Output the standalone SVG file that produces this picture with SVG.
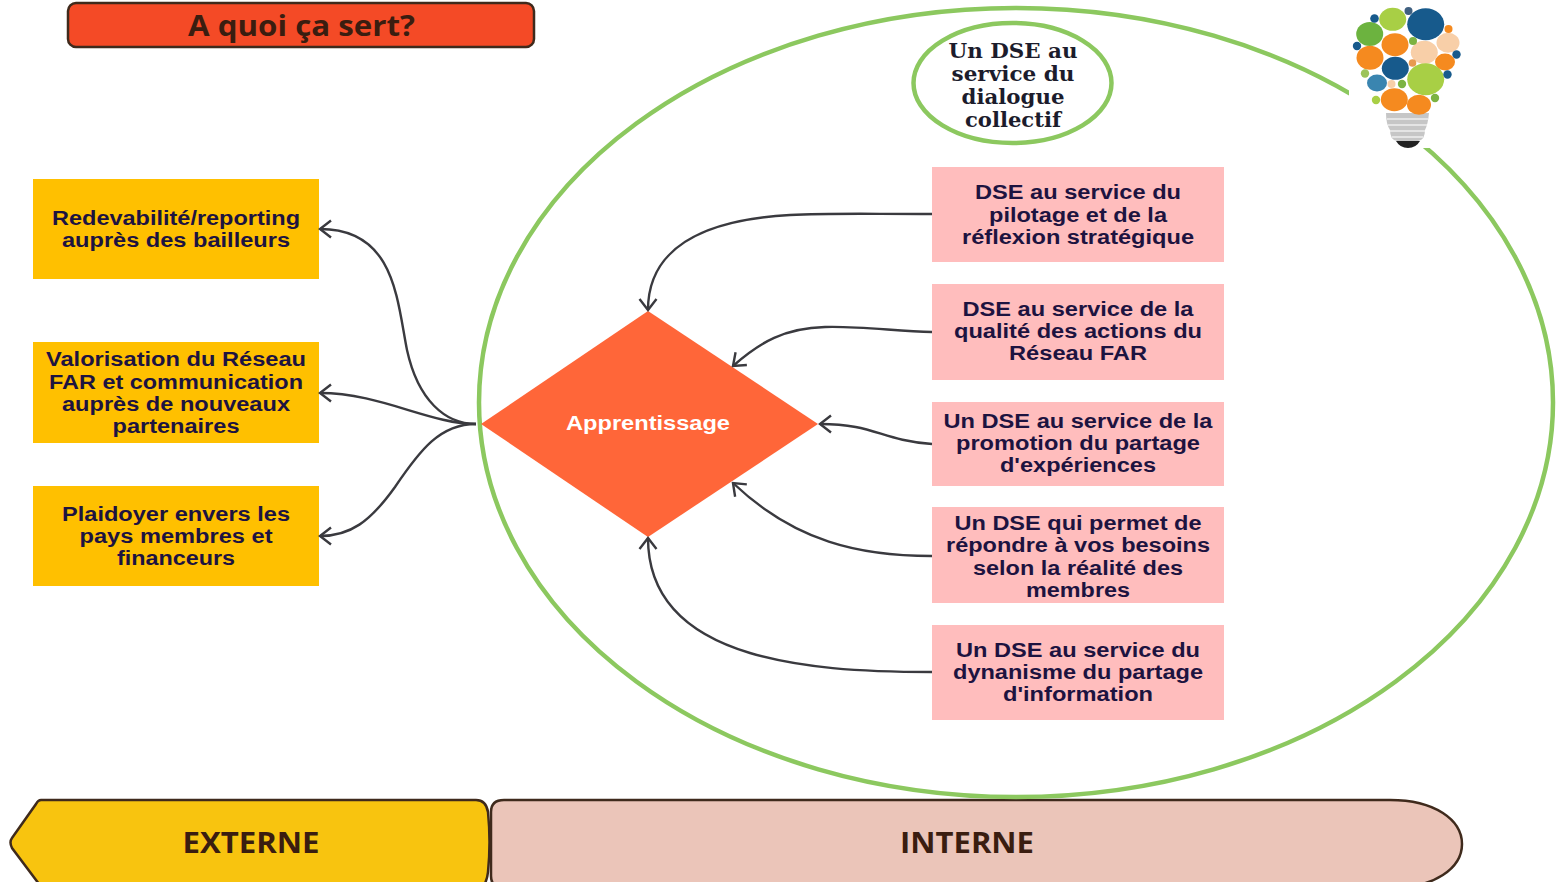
<svg xmlns="http://www.w3.org/2000/svg" width="1556" height="882" viewBox="0 0 1556 882">
<style>
.t{font-family:"Liberation Sans",Arial,sans-serif;font-weight:700;font-size:20px;fill:#1d1340;text-anchor:middle}
.o{fill:#ffc000}.p{fill:#ffbdbd}
.h{font-family:"Open Sans","Noto Sans",sans-serif;font-weight:700;text-anchor:middle;fill:#3a1d10}
.s{font-family:"DejaVu Serif","Liberation Serif",serif;font-weight:700;font-size:20px;fill:#1c1c2c;text-anchor:middle}
.g{fill:none;stroke:#8cc85f;stroke-width:4.5}
.c path{fill:none;stroke:#3a3a3f;stroke-width:2.4}
.b{stroke:#3f2a1c;stroke-width:2.5}
</style>
<defs>
<marker id="a" viewBox="0 0 20 20" refX="18" refY="10" markerWidth="20" markerHeight="20" markerUnits="userSpaceOnUse" orient="auto"><path d="M7 1.500 L18 10 L7 18.500" fill="none" stroke="#3a3a3f" stroke-width="2.4"/></marker>
</defs>
<rect width="1556" height="882" fill="#fff"/>
<g id="title"><rect class="b" x="68" y="3" width="466" height="44" rx="8" fill="#f44a26"/><text class="h" x="301.500" y="36" font-size="28" textLength="227" lengthAdjust="spacingAndGlyphs">A quoi ça sert?</text></g>
<g id="externe"><path class="b" d="M41 800H476Q486 800 488 812Q491 842 488 872Q487 882 482 888H42L12 848Q9 842 12 838L36 804Q38 800 41 800Z" fill="#f8c40f"/><text class="h" x="251" y="853" font-size="28" textLength="137" lengthAdjust="spacingAndGlyphs">EXTERNE</text></g>
<g id="interne"><path class="b" d="M504 800H1390C1435 800 1462 820 1462 844C1462 868 1435 888 1390 888H504Q491 888 491 876V812Q491 800 504 800Z" fill="#ebc5b9"/><text class="h" x="967" y="853" font-size="28" textLength="134" lengthAdjust="spacingAndGlyphs">INTERNE</text></g>
<g id="cercle"><ellipse class="g" cx="1016" cy="402.5" rx="537" ry="394.5"/></g>
<g id="ampoule">
<rect x="1349" y="0" width="116" height="148" fill="#fff"/>
<path d="M1386 113H1429Q1428 124 1425 130Q1425 140 1418 141H1397Q1390 140 1390 130Q1386 124 1386 113Z" fill="#c6c6c6"/>
<path d="M1387 119H1428M1388 125H1427M1390 131H1425M1392 137H1423" stroke="#eee" stroke-width="1.6" fill="none"/>
<path d="M1396 141H1420Q1416 148 1408 148Q1400 148 1396 141Z" fill="#222"/>
<ellipse cx="1425.7" cy="24.3" rx="18.500" ry="16" fill="#175a8c"/>
<ellipse cx="1392.7" cy="19.3" rx="13.500" ry="11.500" fill="#a8cf45"/>
<ellipse cx="1369.7" cy="34" rx="13.500" ry="12" fill="#6cb33f"/>
<ellipse cx="1395" cy="44.7" rx="13.500" ry="11.500" fill="#f58a1f"/>
<ellipse cx="1424.3" cy="52.3" rx="13.500" ry="11.500" fill="#f8cfa8"/>
<ellipse cx="1448" cy="42.7" rx="11.500" ry="10" fill="#f8cfa8"/>
<ellipse cx="1370" cy="57.7" rx="13.500" ry="12" fill="#f58a1f"/>
<ellipse cx="1445" cy="62" rx="10" ry="8.500" fill="#f58a1f"/>
<ellipse cx="1395.3" cy="68.3" rx="13.500" ry="11.500" fill="#175a8c"/>
<ellipse cx="1425.7" cy="79.3" rx="18.500" ry="16" fill="#a8cf45"/>
<ellipse cx="1377" cy="83" rx="10" ry="8.500" fill="#3a85b0"/>
<ellipse cx="1394.3" cy="99.7" rx="13.500" ry="11.500" fill="#f58a1f"/>
<ellipse cx="1419" cy="104.700" rx="12" ry="10" fill="#f58a1f"/>
<circle cx="1408.5" cy="11" r="4" fill="#3f6080"/>
<circle cx="1374.5" cy="18.5" r="4.3" fill="#175a8c"/>
<circle cx="1357" cy="46" r="4.2" fill="#175a8c"/>
<circle cx="1448.5" cy="29" r="4" fill="#f58a1f"/>
<circle cx="1413" cy="41" r="4" fill="#7cb342"/>
<circle cx="1456.5" cy="54.5" r="4.2" fill="#175a8c"/>
<circle cx="1412.5" cy="63" r="3.8" fill="#e89a50"/>
<circle cx="1447.5" cy="74.5" r="4.2" fill="#175a8c"/>
<circle cx="1365" cy="73.5" r="4.2" fill="#9cc45a"/>
<circle cx="1391.5" cy="84" r="4" fill="#f8cfa8"/>
<circle cx="1402" cy="84" r="4.2" fill="#7cb342"/>
<circle cx="1376" cy="100" r="4.2" fill="#a8cf45"/>
<circle cx="1435" cy="98" r="4.2" fill="#7cb342"/>
</g>
<g id="dialogue"><ellipse class="g" cx="1012.500" cy="83" rx="99" ry="60" fill="#fff"/><text class="s" x="1013" y="58" textLength="129" lengthAdjust="spacingAndGlyphs">Un DSE au</text><text class="s" x="1013" y="81" textLength="123" lengthAdjust="spacingAndGlyphs">service du</text><text class="s" x="1013" y="104" textLength="103" lengthAdjust="spacingAndGlyphs">dialogue</text><text class="s" x="1013" y="127" textLength="96" lengthAdjust="spacingAndGlyphs">collectif</text></g>
<g id="apprentissage"><path d="M648 311L818 424L648 537L481 424Z" fill="#ff6639"/><text class="t" x="648" y="430" style="fill:#fff" textLength="164" lengthAdjust="spacingAndGlyphs">Apprentissage</text></g>
<g id="e1"><rect class="o" x="33" y="179" width="286" height="100"/><text class="t" x="176" y="225" textLength="248" lengthAdjust="spacingAndGlyphs">Redevabilité/reporting</text><text class="t" x="176" y="247" textLength="228" lengthAdjust="spacingAndGlyphs">auprès des bailleurs</text></g>
<g id="e2"><rect class="o" x="33" y="342" width="286" height="101"/><text class="t" x="176" y="366" textLength="260" lengthAdjust="spacingAndGlyphs">Valorisation du Réseau</text><text class="t" x="176" y="389" textLength="254" lengthAdjust="spacingAndGlyphs">FAR et communication</text><text class="t" x="176" y="411" textLength="228" lengthAdjust="spacingAndGlyphs">auprès de nouveaux</text><text class="t" x="176" y="433" textLength="127" lengthAdjust="spacingAndGlyphs">partenaires</text></g>
<g id="e3"><rect class="o" x="33" y="486" width="286" height="100"/><text class="t" x="176" y="521" textLength="228" lengthAdjust="spacingAndGlyphs">Plaidoyer envers les</text><text class="t" x="176" y="543" textLength="193" lengthAdjust="spacingAndGlyphs">pays membres et</text><text class="t" x="176" y="565" textLength="118" lengthAdjust="spacingAndGlyphs">financeurs</text></g>
<g id="i1"><rect class="p" x="932" y="167" width="292" height="95"/><text class="t" x="1078" y="199" textLength="206" lengthAdjust="spacingAndGlyphs">DSE au service du</text><text class="t" x="1078" y="222" textLength="178" lengthAdjust="spacingAndGlyphs">pilotage et de la</text><text class="t" x="1078" y="244" textLength="232" lengthAdjust="spacingAndGlyphs">réflexion stratégique</text></g>
<g id="i2"><rect class="p" x="932" y="284" width="292" height="96"/><text class="t" x="1078" y="316" textLength="231" lengthAdjust="spacingAndGlyphs">DSE au service de la</text><text class="t" x="1078" y="338" textLength="248" lengthAdjust="spacingAndGlyphs">qualité des actions du</text><text class="t" x="1078" y="360" textLength="138" lengthAdjust="spacingAndGlyphs">Réseau FAR</text></g>
<g id="i3"><rect class="p" x="932" y="402" width="292" height="84"/><text class="t" x="1078" y="428" textLength="269" lengthAdjust="spacingAndGlyphs">Un DSE au service de la</text><text class="t" x="1078" y="450" textLength="244" lengthAdjust="spacingAndGlyphs">promotion du partage</text><text class="t" x="1078" y="472" textLength="156" lengthAdjust="spacingAndGlyphs">d'expériences</text></g>
<g id="i4"><rect class="p" x="932" y="507" width="292" height="96"/><text class="t" x="1078" y="530" textLength="247" lengthAdjust="spacingAndGlyphs">Un DSE qui permet de</text><text class="t" x="1078" y="552" textLength="264" lengthAdjust="spacingAndGlyphs">répondre à vos besoins</text><text class="t" x="1078" y="575" textLength="210" lengthAdjust="spacingAndGlyphs">selon la réalité des</text><text class="t" x="1078" y="597" textLength="104" lengthAdjust="spacingAndGlyphs">membres</text></g>
<g id="i5"><rect class="p" x="932" y="625" width="292" height="95"/><text class="t" x="1078" y="657" textLength="244" lengthAdjust="spacingAndGlyphs">Un DSE au service du</text><text class="t" x="1078" y="679" textLength="250" lengthAdjust="spacingAndGlyphs">dynanisme du partage</text><text class="t" x="1078" y="701" textLength="150" lengthAdjust="spacingAndGlyphs">d'information</text></g>
<g id="connecteurs" class="c">
<path marker-end="url(#a)" d="M476 424C445 424 418 400 407 350C397 300 395 229 320 229"/>
<path marker-end="url(#a)" d="M476 424C430 424 380 393 320 393"/>
<path marker-end="url(#a)" d="M476 424C440 424 420 450 395 487C370 522 350 536 320 536"/>
<path marker-end="url(#a)" d="M932 214C860 214 830 213 790 215C700 220 648 250 648 310"/>
<path marker-end="url(#a)" d="M932 332C895 331 860 326 825 327C785 328 760 342 733 366"/>
<path marker-end="url(#a)" d="M932 444C880 440 875 424 820 424"/>
<path marker-end="url(#a)" d="M932 556C860 556 795 542 733 483"/>
<path marker-end="url(#a)" d="M932 672C860 672 800 668 750 653C690 635 648 600 648 538"/>
</g>
</svg>
